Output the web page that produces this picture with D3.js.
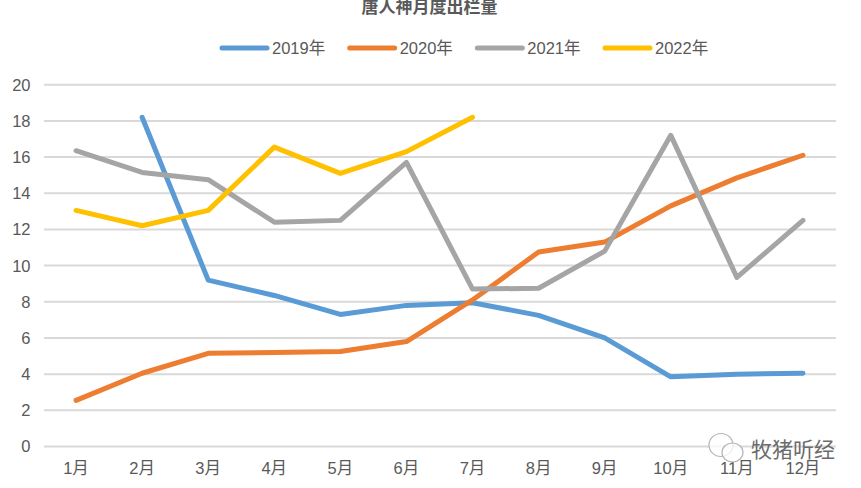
<!DOCTYPE html>
<html>
<head>
<meta charset="utf-8">
<script src="https://cdn.jsdelivr.net/npm/d3@7"></script>
<style>
  html, body { margin: 0; padding: 0; background: #fff; }
  svg { display: block; }
  text { font-family: "Liberation Sans", "Noto Sans CJK SC", sans-serif; fill: #595959; }
</style>
</head>
<body>
<svg id="chart" width="861" height="488"></svg>
<script>
const months = ["1月", "2月", "3月", "4月", "5月", "6月", "7月", "8月", "9月", "10月", "11月", "12月"];
const yTicks = [0, 2, 4, 6, 8, 10, 12, 14, 16, 18, 20];
const seriesNames = ["2019年", "2020年", "2021年", "2022年"];
const seriesColors = ["#5b9bd5", "#ed7d31", "#a5a5a5", "#ffc000"];
const values2019 = [null, 18.2, 9.2, 8.35, 7.3, 7.8, 7.95, 7.25, 6, 3.85, 4, 4.05];
const values2020 = [2.55, 4.05, 5.15, 5.2, 5.25, 5.8, 8.1, 10.75, 11.3, 13.3, 14.85, 16.1];
const values2021 = [16.35, 15.15, 14.75, 12.4, 12.5, 15.7, 8.7, 8.75, 10.8, 17.2, 9.35, 12.5];
const values2022 = [13.05, 12.2, 13.05, 16.55, 15.1, 16.3, 18.2, null, null, null, null, null];
const allValues = [values2019, values2020, values2021, values2022];

let svg = d3.select("#chart");

let x = d3.scaleBand().domain(months).range([43, 836]);
let y = d3.scaleLinear().domain([0, 20]).range([446.5, 84.7]);

// grid
svg.append("g")
  .selectAll("line")
  .data(yTicks)
  .join("line")
  .attr("x1", 44)
  .attr("x2", 836)
  .attr("y1", (d) => y(d))
  .attr("y2", (d) => y(d))
  .attr("stroke", "#d9d9d9")
  .attr("stroke-width", 2);

// tick labels
svg.append("g")
  .selectAll("text")
  .data(yTicks)
  .join("text")
  .attr("x", 30.5)
  .attr("y", (d) => y(d))
  .attr("dy", "0.36em")
  .attr("text-anchor", "end")
  .attr("font-size", 16.5)
  .text((d) => d);

svg.append("g")
  .selectAll("text")
  .data(months)
  .join("text")
  .attr("x", (d) => x(d) + x.bandwidth() / 2)
  .attr("y", 473.5)
  .attr("text-anchor", "middle")
  .attr("font-size", 16.5)
  .text((d) => d);

// lines
let line = d3.line()
  .defined((d) => d !== null)
  .x((d, i) => x(months[i]) + x.bandwidth() / 2)
  .y((d) => y(d));

svg.append("g")
  .selectAll("path")
  .data(allValues)
  .join("path")
  .attr("d", line)
  .attr("fill", "none")
  .attr("stroke", (d, i) => seriesColors[i])
  .attr("stroke-width", 5)
  .attr("stroke-linecap", "round")
  .attr("stroke-linejoin", "round");

// title, cut by the top edge like the original
svg.append("text")
  .attr("x", 429.5)
  .attr("y", 13)
  .attr("text-anchor", "middle")
  .attr("font-size", 17)
  .attr("font-weight", "bold")
  .text("唐人神月度出栏量");

// legend
const legendX = d3.scalePoint().domain(seriesNames).range([222, 605]);

let legend = svg.append("g")
  .selectAll("g")
  .data(seriesNames)
  .join("g")
  .attr("transform", (d) => `translate(${legendX(d)},48)`);

legend.append("line")
  .attr("x1", 0)
  .attr("x2", 45)
  .attr("stroke", (d, i) => seriesColors[i])
  .attr("stroke-width", 5)
  .attr("stroke-linecap", "round");

legend.append("text")
  .attr("x", 50)
  .attr("dy", "0.36em")
  .attr("font-size", 16.5)
  .text((d) => d);

// watermark
let mark = svg.append("g").attr("fill", "rgba(255,255,255,0.75)").attr("stroke", "#b5b5b5").attr("stroke-width", 1.2);
mark.append("ellipse").attr("cx", 721).attr("cy", 445).attr("rx", 12).attr("ry", 11.5);
mark.append("ellipse").attr("cx", 732.5).attr("cy", 452.5).attr("rx", 10.5).attr("ry", 9.5);

svg.append("text")
  .attr("x", 751)
  .attr("y", 457)
  .attr("font-size", 21)
  .style("fill", "#6b6b6b")
  .text("牧猪听经");
</script>
</body>
</html>
